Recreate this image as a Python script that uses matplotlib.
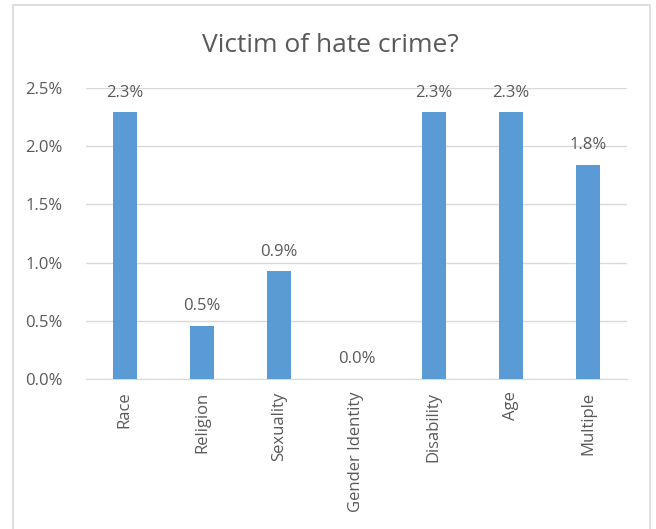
import matplotlib.pyplot as plt
from matplotlib.patches import Rectangle
from matplotlib.ticker import FuncFormatter

categories = ["Race", "Religion", "Sexuality", "Gender Identity", "Disability", "Age", "Multiple"]
values = [2.29, 0.455, 0.925, 0.0, 2.29, 2.29, 1.84]
labels = ["2.3%", "0.5%", "0.9%", "0.0%", "2.3%", "2.3%", "1.8%"]
yticks = [0.0, 0.5, 1.0, 1.5, 2.0, 2.5]

txt = "#595959"
plt.rcParams["font.family"] = ["Open Sans", "DejaVu Sans"]

fig = plt.figure(figsize=(6.56, 5.29), dpi=100)
# chart border (bottom edge cut off in the reference)
fig.add_artist(Rectangle((13 / 656, -0.05), (650 - 13) / 656, 1.05 - 5 / 529,
                         transform=fig.transFigure, fill=False,
                         edgecolor="#d9d9d9", linewidth=1.2))

ax = fig.add_axes([86 / 656, 1 - 379 / 529, (627 - 86) / 656, (379 - 88) / 529])
x = range(len(categories))
bars = ax.bar(x, values, width=0.31, color="#5b9bd5", zorder=3)

for b, lab in zip(bars, labels):
    ax.text(b.get_x() + b.get_width() / 2, b.get_height() + 0.1, lab,
            ha="center", va="bottom", fontsize=12, color=txt)

ax.set_xlim(-0.5, len(categories) - 0.5)
ax.set_ylim(0, 2.5)
ax.set_yticks(yticks)
ax.yaxis.set_major_formatter(FuncFormatter(lambda v, p: f"{v:.1f}%"))
ax.set_xticks(list(x))
ax.set_xticklabels(categories, rotation=90)
ax.grid(axis="y", color="#d9d9d9", linewidth=1, zorder=0)
for s in ["top", "right", "left"]:
    ax.spines[s].set_visible(False)
ax.spines["bottom"].set_color("#d9d9d9")
ax.tick_params(axis="both", length=0, labelsize=12, labelcolor=txt)
ax.tick_params(axis="y", pad=17)
ax.tick_params(axis="x", pad=9)

fig.text(330 / 656, 1 - 45 / 529, "Victim of hate crime?", ha="center", va="center",
         fontsize=19, color=txt)

plt.savefig("out.png", dpi=100)
